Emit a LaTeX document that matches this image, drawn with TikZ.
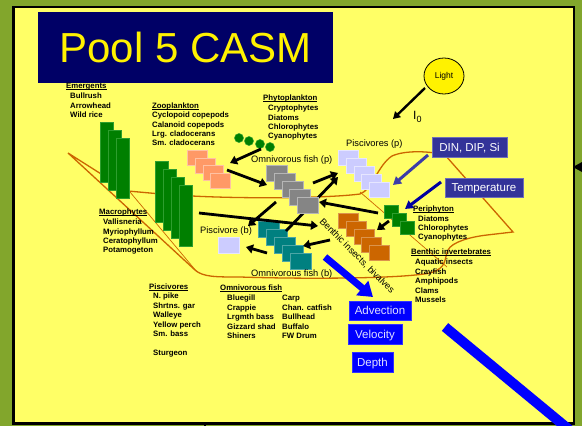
\documentclass[tikz,border=0pt]{standalone}
\usepackage{fontspec}
\setmainfont{Liberation Sans}
\usetikzlibrary{arrows.meta,shapes.geometric}
\definecolor{bgolive}{HTML}{82A62C}
\definecolor{panelyel}{HTML}{FFFF66}
\definecolor{titlenavy}{HTML}{000066}
\definecolor{pondorange}{HTML}{CC6600}
\definecolor{emgreen}{HTML}{007F00}
\definecolor{emgreenb}{HTML}{2E9E2E}
\definecolor{salmonc}{HTML}{FF9966}
\definecolor{grayc}{HTML}{858585}
\definecolor{lavc}{HTML}{CCCCFF}
\definecolor{tealc}{HTML}{008080}
\definecolor{brownc}{HTML}{CC6600}
\definecolor{dinblue}{HTML}{333399}
\definecolor{dinarrow}{HTML}{3B3BA8}
\definecolor{temparrow}{HTML}{0000A0}
\definecolor{brightblue}{HTML}{0000FF}
\definecolor{boxtext}{HTML}{E0E0FF}
\newcommand\hdu[1]{\setbox0=\hbox{#1}\rlap{\rule[-1.3pt]{\wd0}{0.7pt}}\box0}
\begin{document}
\begin{tikzpicture}[x=1pt,y=-1pt,
  bl/.style={font=\fontsize{7.8}{9}\selectfont\bfseries, anchor=base west, inner sep=0pt},
  rg/.style={font=\fontsize{9.3}{11}\selectfont, anchor=base west, inner sep=0pt},
  arr/.style={draw=black, line width=2.8pt, -{Triangle[length=7pt,width=9pt]}},
  orng/.style={draw=pondorange, line width=1.3pt},
  thinorng/.style={draw=pondorange, line width=0.7pt},
  sq/.style={rectangle, inner sep=0pt, line width=0.6pt, anchor=north west},
  emb/.style={sq, fill=emgreen, draw=emgreenb, minimum width=13pt, minimum height=60pt},
  salm/.style={sq, fill=salmonc, draw=salmonc!60!white, minimum width=20pt, minimum height=15pt},
  grsq/.style={sq, fill=grayc, draw=grayc!60!white, minimum width=21pt, minimum height=16pt},
  lavsq/.style={sq, fill=lavc, draw=lavc!50!white, minimum width=20pt, minimum height=15pt},
  tlsq/.style={sq, fill=tealc, draw=tealc!70!white, minimum width=21pt, minimum height=16pt},
  brsq/.style={sq, fill=brownc, draw=brownc!70!white, minimum width=20pt, minimum height=15pt},
  pesq/.style={sq, fill=emgreen, draw=emgreenb, minimum width=14pt, minimum height=13pt},
  dot/.style={circle, fill=emgreen, draw=emgreenb, line width=0.5pt, minimum size=9pt, inner sep=0pt},
  bbox/.style={rectangle, fill=brightblue, draw=brightblue!80!white, line width=0.8pt, text=boxtext,
     font=\fontsize{11.5}{12}\selectfont, inner sep=0pt, text height=8.3pt, text depth=0pt},
  dbox/.style={rectangle, fill=dinblue, draw=dinblue!70!white, line width=0.8pt, text=white,
     font=\fontsize{11.5}{12}\selectfont, inner sep=0pt, text height=8.3pt, text depth=0pt}
]
\useasboundingbox (0,0) rectangle (582,426);
% background and panel
\fill[bgolive] (0,0) rectangle (582,426);
\draw[fill=panelyel, line width=2.6pt] (13.5,7) rectangle (574,423.5);
\fill[black] (573,167) -- (582,162) -- (582,172) -- cycle;
\draw[line width=1.2pt] (205,423) -- (205,426);

% title
\node[fill=titlenavy, minimum width=295pt, minimum height=71pt, inner sep=0pt, text=yellow,
  font=\fontsize{42}{42}\selectfont] (title) at (185.5,47.5) {Pool 5 CASM};

% pool outline
\draw[orng] (68,153) -- (128,191) .. controls (150,193) and (170,195) .. (192,196)
  .. controls (250,199) and (330,198) .. (360,194)
  .. controls (372,190) and (378,165) .. (392,156)
  .. controls (405,150) and (430,151) .. (445,155) -- (513,232)
  -- (487,235) .. controls (470,237) and (452,242) .. (448,250)
  .. controls (444,258) and (448,268) .. (430,273)
  .. controls (400,279) and (300,279) .. (240,277)
  .. controls (215,277) and (203,277) .. (195,270) -- cycle;
\draw[thinorng] (130,192) -- (197,272);
\draw[thinorng] (360,192) -- (447,267);

% emergent bars
\foreach \i in {0,1,2} \node[emb] (em\i) at ({100+8*\i},{122+8*\i}) {};
% macrophyte bars
\foreach \i in {0,...,3} \node[emb, minimum height=61pt] (mac\i) at ({155+8*\i},{161+8*\i}) {};

% green dots (phytoplankton)
\node[dot] (ph1) at (239,138) {};
\node[dot] (ph2) at (249,141) {};
\node[dot] (ph3) at (260,144) {};
\node[dot] (ph4) at (270,147) {};

% squares
\foreach \i in {0,...,3} \node[salm] (zp\i) at ({187+7.75*\i},{150+7.7*\i}) {};
\foreach \i in {0,...,4} \node[lavsq] (pp\i) at ({338+7.75*\i},{150+8*\i}) {};
\foreach \i in {0,...,4} \node[tlsq] (ob\i) at ({258+8*\i},{221+8*\i}) {};
\coordinate (a4s) at (286,231);
\coordinate (a4e) at (338,177);
\draw[arr] (a4s) -- (a4e);
\foreach \i in {0,...,4} \node[grsq] (op\i) at ({266+7.75*\i},{165+8*\i}) {};
\foreach \i in {0,...,4} \node[brsq] (bi\i) at ({338+7.75*\i},{213+8*\i}) {};
\foreach \i in {0,...,2} \node[pesq] (pe\i) at ({384+8*\i},{205+8*\i}) {};
\node[lavsq, minimum width=21pt, minimum height=16pt] (pb) at (218,237) {};

% black arrows
\coordinate (a1s) at (261,149); \coordinate (a1e) at (230,163);
\coordinate (a2s) at (227,170); \coordinate (a2e) at (267,185);
\coordinate (a3s) at (313,183); \coordinate (a3e) at (338,173);
\coordinate (a5s) at (276,202); \coordinate (a5e) at (248,226);
\coordinate (a6s) at (199,213); \coordinate (a6e) at (318,226);
\coordinate (a7s) at (378,213); \coordinate (a7e) at (319,202);
\coordinate (a8s) at (389,221); \coordinate (a8e) at (377,230);
\coordinate (a9s) at (330,240); \coordinate (a9e) at (303,246);
\coordinate (a10s) at (267,253); \coordinate (a10e) at (246,247);
\foreach \a in {1,2,3,5,6,7,8,9,10} \draw[arr] (a\a s) -- (a\a e);

% light
\node[ellipse, draw=black, line width=0.8pt, fill=yellow, minimum width=40pt, minimum height=36pt,
  inner sep=0pt, font=\fontsize{8.5}{9}\selectfont] (light) at (444,76) {Light};
\coordinate (i0) at (393,119);
\coordinate (ls) at (425,88);
\draw[draw=black, line width=2.4pt, -{Triangle[length=7pt,width=8pt]}] (ls) -- (i0);
\node[anchor=base west, inner sep=0pt, font=\fontsize{12}{12}\selectfont] (i0lab) at (413,119)
  {I\raisebox{-3pt}{\fontsize{9}{9}\selectfont 0}};

% driver boxes
\node[dbox, minimum width=75pt, minimum height=20pt] (din) at (469.5,147) {DIN, DIP, Si};
\node[dbox, minimum width=78pt, minimum height=19pt] (temp) at (484,187.5) {Temperature};
\node[bbox, minimum width=62pt, minimum height=19pt] (adv) at (380,310.5) {Advection};
\node[bbox, minimum width=54pt, minimum height=20pt] (vel) at (375,334) {Velocity};
\node[bbox, minimum width=41pt, minimum height=20pt] (dep) at (372.5,362) {Depth};

% blue arrows
\coordinate (dns) at (428,155); \coordinate (dne) at (393,185);
\draw[draw=dinarrow, line width=3pt, -{Triangle[length=8pt,width=9pt]}] (dns) -- (dne);
\coordinate (tps) at (441,182); \coordinate (tpe) at (405,209);
\draw[draw=temparrow, line width=3pt, -{Triangle[length=8pt,width=9pt]}] (tps) -- (tpe);
\coordinate (avs) at (325,257); \coordinate (ave) at (373,297);
\draw[draw=brightblue, line width=7pt, -{Triangle[length=14pt,width=18pt]}] (avs) -- (ave);
\coordinate (bls) at (445,327); \coordinate (ble) at (572,432);
\draw[draw=brightblue, line width=10pt] (bls) -- (ble);

% regular labels
\node[rg] (lop) at (251,162.3) {Omnivorous fish (p)};
\node[rg] (lpp) at (346,146.3) {Piscivores (p)};
\node[rg] (lpb) at (200,233.3) {Piscivore (b)};
\node[rg] (lob) at (251,276.3) {Omnivorous fish (b)};
\node[rg, anchor=center, rotate=-45] (lbi) at (357,256) {Benthic insects, bivalves};

% lists
\node[bl] (hem) at (66,88.8) {\hdu{Emergents}};
\foreach \t [count=\i] in {Bullrush, Arrowhead, Wild rice}
  \node[bl] (em-\i) at (70,{98.8+(\i-1)*9.5}) {\t};
\node[bl] (hzp) at (152,108.8) {\hdu{Zooplankton}};
\foreach \t [count=\i] in {Cyclopoid copepods, Calanoid copepods, Lrg. cladocerans, Sm. cladocerans}
  \node[bl] (zp-\i) at (152,{117.8+(\i-1)*9.3}) {\t};
\node[bl] (hph) at (263,100.8) {\hdu{Phytoplankton}};
\foreach \t [count=\i] in {Cryptophytes, Diatoms, Chlorophytes, Cyanophytes}
  \node[bl] (ph-\i) at (268,{110.8+(\i-1)*9.3}) {\t};
\node[bl] (hma) at (99,214.8) {\hdu{Macrophytes}};
\foreach \t [count=\i] in {Vallisneria, Myriophyllum, Ceratophyllum, Potamogeton}
  \node[bl] (ma-\i) at (103,{224.8+(\i-1)*9.3}) {\t};
\node[bl] (hpe) at (413,211.8) {\hdu{Periphyton}};
\foreach \t [count=\i] in {Diatoms, Chlorophytes, Cyanophytes}
  \node[bl] (pe-\i) at (418,{221.8+(\i-1)*9}) {\t};
\node[bl] (hbi) at (411,254.8) {\hdu{Benthic invertebrates}};
\foreach \t [count=\i] in {Aquatic insects, Crayfish, Amphipods, Clams, Mussels}
  \node[bl] (bi-\i) at (415,{264.8+(\i-1)*9.5}) {\t};
\node[bl] (hpi) at (149,289.8) {\hdu{Piscivores}};
\foreach \t [count=\i] in {N. pike, Shrtns. gar, Walleye, Yellow perch, Sm. bass}
  \node[bl] (pi-\i) at (153,{298.8+(\i-1)*9.5}) {\t};
\node[bl] (pi-6) at (153,355.8) {Sturgeon};
\node[bl] (hof) at (220,290.8) {\hdu{Omnivorous fish}};
\foreach \t [count=\i] in {Bluegill, Crappie, Lrgmth bass, Gizzard shad, Shiners}
  \node[bl] (ofa-\i) at (227,{300.8+(\i-1)*9.5}) {\t};
\foreach \t [count=\i] in {Carp, Chan. catfish, Bullhead, Buffalo, FW Drum}
  \node[bl] (ofb-\i) at (282,{300.8+(\i-1)*9.5}) {\t};
\end{tikzpicture}
\end{document}
